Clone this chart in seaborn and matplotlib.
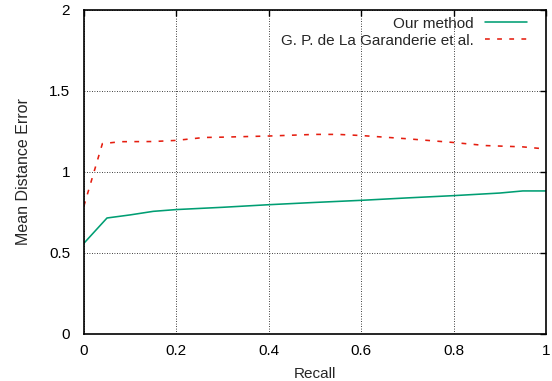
import pandas as pd
import seaborn as sns
import matplotlib.pyplot as plt

# values
recall_ours = [0, 0.05, 0.1, 0.15, 0.2, 0.3, 0.4, 0.5, 0.6, 0.7, 0.8, 0.9, 0.95, 1.0]
error_ours = [0.56, 0.716, 0.735, 0.757, 0.768, 0.782, 0.798, 0.812, 0.825, 0.840, 0.854, 0.870, 0.883, 0.883]

recall_garanderie = [0, 0.04, 0.08, 0.15, 0.2, 0.26, 0.3, 0.4, 0.5, 0.55, 0.6, 0.7, 0.8, 0.87, 0.95, 1.0]
error_garanderie = [0.79, 1.175, 1.187, 1.188, 1.195, 1.213, 1.215, 1.222, 1.232, 1.232, 1.225, 1.205,
                    1.182, 1.163, 1.155, 1.142]

label_ours = 'Our method'
label_garanderie = 'G. P. de La Garanderie et al.'

x_ticks = [0, 0.2, 0.4, 0.6, 0.8, 1]
x_tick_labels = ['0', '0.2', '0.4', '0.6', '0.8', '1']
y_ticks = [0, 0.5, 1, 1.5, 2]
y_tick_labels = ['0', '0.5', '1', '1.5', '2']

df = pd.concat([
    pd.DataFrame({'Recall': recall_ours, 'Error': error_ours, 'Method': label_ours}),
    pd.DataFrame({'Recall': recall_garanderie, 'Error': error_garanderie, 'Method': label_garanderie}),
])

sns.set_style('white')
plt.rcParams['font.family'] = ['Liberation Sans', 'DejaVu Sans']
plt.rcParams['font.size'] = 11

fig = plt.figure(figsize=(5.52, 3.81), dpi=100)
ax = fig.add_axes([0.152, 0.1234, 0.837, 0.8504])

sns.lineplot(data=df, x='Recall', y='Error', hue='Method', style='Method',
             palette={label_ours: '#009e73', label_garanderie: '#e51e10'},
             dashes={label_ours: '', label_garanderie: (3.0, 4.6)},
             linewidth=1.15, ax=ax, legend=False)

ax.set_xlim(0, 1)
ax.set_ylim(0, 2)
ax.set_xticks(x_ticks)
ax.set_xticklabels(x_tick_labels)
ax.set_yticks(y_ticks)
ax.set_yticklabels(y_tick_labels)
ax.set_xlabel('Recall', fontsize=11, labelpad=7)
ax.set_ylabel('Mean Distance Error', fontsize=11.5, labelpad=13)

ax.grid(True, color='black', linestyle=(0, (1, 2)), linewidth=0.6)
ax.tick_params(direction='in', length=4, width=1, colors='black', labelsize=11,
               top=True, right=True, pad=7)
ax.tick_params(axis='y', pad=10)
for side in ax.spines.values():
    side.set_visible(True)
    side.set_color('black')
    side.set_linewidth(1.2)

handles = ax.lines[:2]
ax.legend(handles, [label_ours, label_garanderie], loc='upper right', frameon=False,
          markerfirst=False, handlelength=2.8, handletextpad=0.7, labelspacing=0.2,
          borderaxespad=0.3, bbox_to_anchor=(0.983, 1.012), fontsize=11)

fig.savefig('out.png', dpi=100)
